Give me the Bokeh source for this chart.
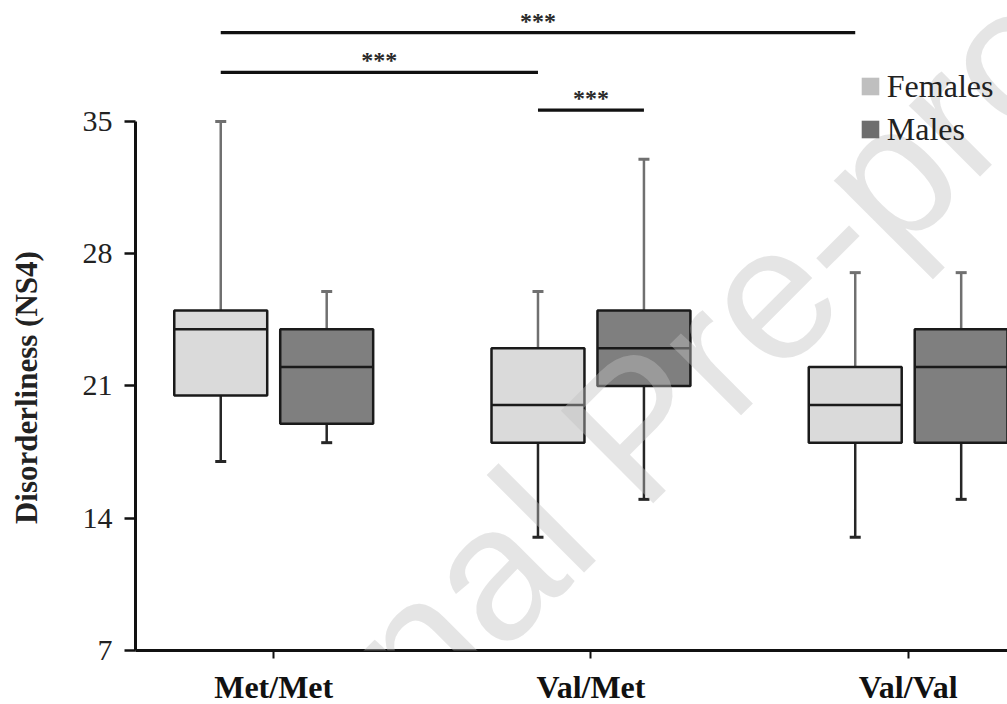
import numpy as np
from bokeh.plotting import figure
from bokeh.models import Range1d, FixedTicker, Label, Legend, LegendItem, ColumnDataSource
from bokeh.embed import file_html
from bokeh.resources import INLINE
from bokeh.core.properties import value

# ---------------- data ----------------
genotypes = ["Met/Met", "Val/Met", "Val/Val"]
sexes = ["Females", "Males"]

fem_lower = [17, 13, 13]
fem_q1 = [20.5, 18, 18]
fem_median = [24, 20, 20]
fem_q3 = [25, 23, 22]
fem_upper = [35, 26, 27]

male_lower = [18, 15, 15]
male_q1 = [19, 21, 18]
male_median = [22, 23, 22]
male_q3 = [24, 25, 24]
male_upper = [26, 33, 27]

y_ticks = [7, 14, 21, 28, 35]
y_title = "Disorderliness (NS4)"

comparisons = [
    ("Met/Met", "Females", "Val/Val", "Females", "***"),
    ("Met/Met", "Females", "Val/Met", "Females", "***"),
    ("Val/Met", "Females", "Val/Met", "Males", "***"),
]

# ---------------- layout / style ----------------
LEFT, TOP = 135, 8
FRAME_W, FRAME_H = 872, 642
X0, X1 = 0.5643, 3.313
Y0, Y1 = 7, 40.98
PX_X = FRAME_W / (X1 - X0)
PX_Y = FRAME_H / (Y1 - Y0)
OFF = 0.167
BOX_W = 0.293
CAP = 5.5 / PX_X
bracket_levels = [39.7, 37.6, 35.6]

FEM_FILL, MALE_FILL = "#dadada", "#7f7f7f"
EDGE = "#1a1a1a"

p = figure(frame_width=FRAME_W, frame_height=FRAME_H,
           x_range=Range1d(X0, X1), y_range=Range1d(Y0, Y1),
           output_backend="svg", toolbar_location=None,
           min_border_left=LEFT, min_border_right=0, min_border_top=TOP, min_border_bottom=40,
           background_fill_color="white", border_fill_color="white",
           outline_line_color=None)
p.grid.visible = False

gx = {g: i + 1 for i, g in enumerate(genotypes)}
sx = {"Females": -OFF, "Males": OFF}


def make_source(sex, lower, q1, med, q3, upper):
    xs = [gx[g] + sx[sex] for g in genotypes]
    return ColumnDataSource(dict(
        x=xs, xl=[x - BOX_W / 2 for x in xs], xr=[x + BOX_W / 2 for x in xs],
        cl=[x - CAP for x in xs], cr=[x + CAP for x in xs],
        lower=lower, q1=q1, med=med, q3=q3, upper=upper))


src_f = make_source("Females", fem_lower, fem_q1, fem_median, fem_q3, fem_upper)
src_m = make_source("Males", male_lower, male_q1, male_median, male_q3, male_upper)

for src, fill in [(src_f, FEM_FILL), (src_m, MALE_FILL)]:
    p.segment(x0="x", y0="q3", x1="x", y1="upper", source=src, line_color="#707070", line_width=2.5)
    p.segment(x0="cl", y0="upper", x1="cr", y1="upper", source=src, line_color="#707070", line_width=3)
    p.segment(x0="x", y0="q1", x1="x", y1="lower", source=src, line_color="#262626", line_width=2.5)
    p.segment(x0="cl", y0="lower", x1="cr", y1="lower", source=src, line_color="#262626", line_width=3)
    p.vbar(x="x", width=BOX_W, top="q3", bottom="q1", source=src,
           fill_color=fill, line_color=EDGE, line_width=2.5)
    p.segment(x0="xl", y0="med", x1="xr", y1="med", source=src, line_color=EDGE, line_width=2.5)

# significance brackets
bx0 = [gx[a] + sx[sa] for a, sa, b, sb, t in comparisons]
bx1 = [gx[b] + sx[sb] for a, sa, b, sb, t in comparisons]
btxt = [c[-1] for c in comparisons]
bsrc = ColumnDataSource(dict(x0=bx0, x1=bx1, y=bracket_levels,
                             xm=[(a + b) / 2 for a, b in zip(bx0, bx1)], t=btxt))
p.segment(x0="x0", y0="y", x1="x1", y1="y", source=bsrc, line_color="#111111", line_width=3.2)
p.text(x="xm", y="y", text="t", source=bsrc, text_align="center", text_baseline="alphabetic",
       y_offset=-12, text_font=value("Liberation Serif"), text_font_style="bold",
       text_font_size="24px", text_color="#2a2a2a")

# axes
p.xaxis.ticker = FixedTicker(ticks=[gx[g] for g in genotypes])
p.xaxis.major_label_overrides = {gx[g]: g for g in genotypes}
p.xaxis.major_label_text_font = "Liberation Serif"
p.xaxis.major_label_text_font_style = "bold"
p.xaxis.major_label_text_font_size = "32px"
p.xaxis.major_label_text_color = "#111111"
p.xaxis.major_label_standoff = 10
p.xaxis.axis_line_width = 3
p.xaxis.axis_line_color = "#111111"
p.xaxis.major_tick_out = 8
p.xaxis.major_tick_in = 0
p.xaxis.major_tick_line_width = 2
p.xaxis.major_tick_line_color = "#111111"
p.xaxis.minor_tick_line_color = None

p.yaxis.ticker = FixedTicker(ticks=y_ticks)
p.yaxis.bounds = (min(y_ticks), max(y_ticks))
p.yaxis.major_label_text_font = "Liberation Serif"
p.yaxis.major_label_text_font_size = "30px"
p.yaxis.major_label_text_color = "#222222"
p.yaxis.major_label_standoff = 12
p.yaxis.axis_line_width = 3
p.yaxis.axis_line_color = "#111111"
p.yaxis.major_tick_out = 11
p.yaxis.major_tick_in = 0
p.yaxis.major_tick_line_width = 2.5
p.yaxis.major_tick_line_color = "#111111"
p.yaxis.minor_tick_line_color = None
# the title is centred on the frame; trailing no-break spaces shift it onto the 7..35 span
p.yaxis.axis_label = y_title + "\u00a0" * 15
p.yaxis.axis_label_text_font = "Liberation Serif"
p.yaxis.axis_label_text_font_style = "bold"
p.yaxis.axis_label_text_font_size = "31px"
p.yaxis.axis_label_text_color = "#222222"
p.yaxis.axis_label_standoff = 36

# legend (dedicated hidden renderers carry the legend swatch colours)
rf = p.vbar(x="x", width=BOX_W, top="q3", bottom="q1", source=src_f,
            fill_color="#bfbfbf", line_color=None, visible=False)
rm = p.vbar(x="x", width=BOX_W, top="q3", bottom="q1", source=src_m,
            fill_color="#6e6e6e", line_color=None, visible=False)
legend = Legend(items=[LegendItem(label=sexes[0], renderers=[rf]),
                       LegendItem(label=sexes[1], renderers=[rm])],
                location=(723.8, 502.5), orientation="vertical",
                glyph_width=22, glyph_height=22, label_standoff=6, spacing=6,
                padding=0, margin=0, border_line_color=None, background_fill_alpha=0,
                inactive_fill_alpha=0,
                label_text_font="Liberation Serif", label_text_font_size="32px",
                label_text_color="#222222")
p.add_layout(legend)

# watermark
p.add_layout(Label(x=X0 + (117 - LEFT) / PX_X, y=Y0 - (945 - (TOP + FRAME_H)) / PX_Y,
                   text="Journal Pre-proof", angle=np.pi / 4,
                   text_align="left", text_baseline="alphabetic",
                   text_font="Liberation Sans", text_font_size="190px",
                   text_color="#c0c0c0", text_alpha=0.42))

open("out.html", "w").write(file_html(p, INLINE))
